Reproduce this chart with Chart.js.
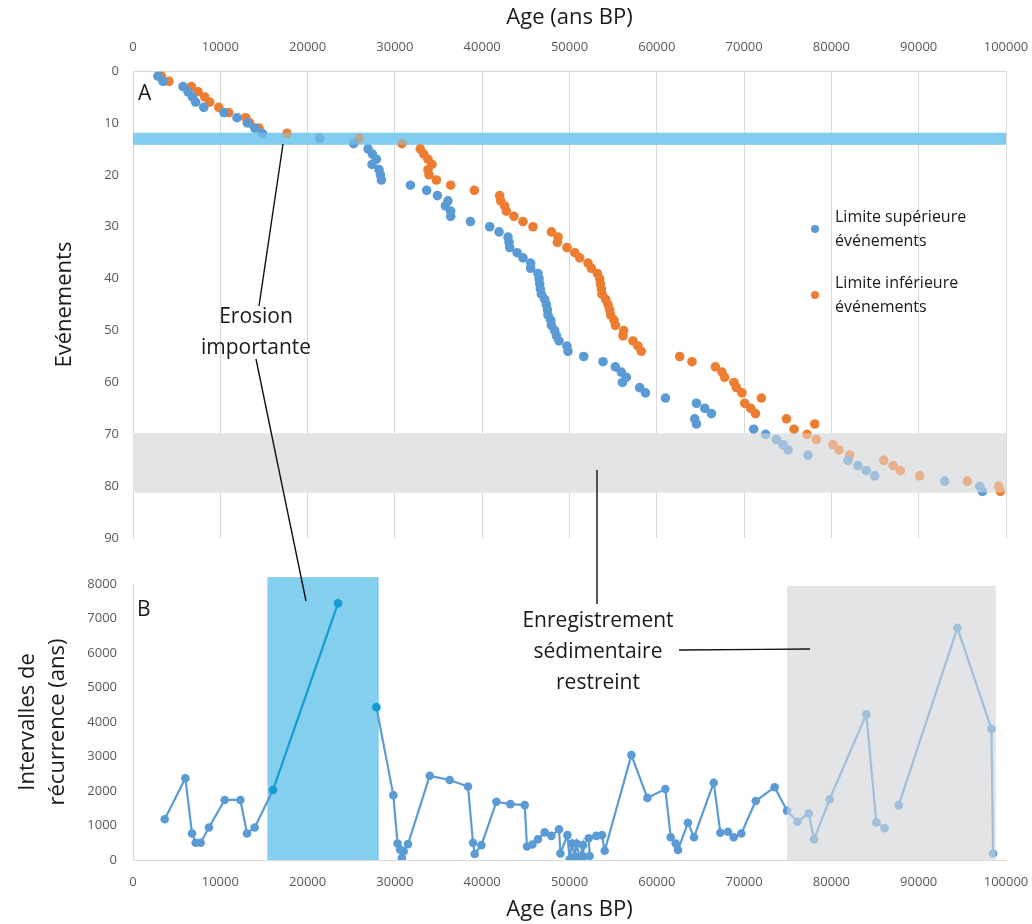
<!DOCTYPE html>
<html lang="fr">
<head>
<meta charset="utf-8">
<title>Evénements et intervalles de récurrence</title>
<script src="https://cdn.jsdelivr.net/npm/chart.js@4.4.1/dist/chart.umd.min.js"></script>
<style>
  html, body { margin: 0; padding: 0; background: #fff; }
  #page { position: relative; width: 1032px; height: 924px; font-family: 'Open Sans', sans-serif; color: #1a1a1a; }
  .panel { position: absolute; left: 0; width: 1032px; }
  #panelA { top: 0; height: 560px; }
  #panelB { top: 560px; height: 364px; }
  #leaders { position: absolute; left: 0; top: 0; pointer-events: none; }
  .note { position: absolute; text-align: center; font-size: 21px; line-height: 31px; white-space: nowrap; transform: translateX(-50%); }
  .tag { position: absolute; font-size: 21px; line-height: 24px; }
  .key { position: absolute; left: 835px; font-size: 16px; line-height: 24px; white-space: nowrap; }
  .key .dot { position: absolute; left: -24px; top: 21px; width: 8px; height: 8px; border-radius: 50%; }
</style>
</head>
<body>
<div id="page">
  <div class="panel" id="panelA"><canvas id="chartA" width="1032" height="560"></canvas></div>
  <div class="panel" id="panelB"><canvas id="chartB" width="1032" height="364"></canvas></div>

  <svg id="leaders" width="1032" height="924">
    <g stroke="#111" stroke-width="1.4" fill="none">
      <line x1="283" y1="144" x2="259" y2="306"/>
      <line x1="256" y1="359" x2="306" y2="601"/>
      <line x1="597" y1="470" x2="597" y2="604"/>
      <line x1="679" y1="650" x2="810" y2="649"/>
    </g>
  </svg>

  <div class="tag" style="left:138px;top:80px">A</div>
  <div class="tag" style="left:137px;top:596px">B</div>

  <div class="key" style="top:204px"><span class="dot" style="background:#5b9bd5"></span>Limite supérieure<br>événements</div>
  <div class="key" style="top:270px"><span class="dot" style="background:#ed7d31"></span>Limite inférieure<br>événements</div>

  <div class="note" style="left:256px;top:300px">Erosion<br>importante</div>
  <div class="note" style="left:598px;top:604px">Enregistrement<br>sédimentaire<br>restreint</div>
</div>

<script>
// Event number (rank) for each dated event
const events = [
  1, 2, 3, 4, 5, 6, 7, 8, 9, 10, 11, 12, 13, 14, 15, 16, 17, 18, 19, 20,
  21, 22, 23, 24, 25, 26, 27, 28, 29, 30, 31, 32, 33, 34, 35, 36, 37, 38, 39, 40,
  41, 42, 43, 44, 45, 46, 47, 48, 49, 50, 51, 52, 53, 54, 55, 56, 57, 58, 59, 60,
  61, 62, 63, 64, 65, 66, 67, 68, 69, 70, 71, 72, 73, 74, 75, 76, 77, 78, 79, 80, 81
];

// Upper age limit of each event (ans BP)
const upperAge = [
  2860, 3440, 5730, 6300, 6800, 7180, 8100, 10420, 11910, 13100, 13940, 14820,
  21390, 25280, 26920, 27420, 27880, 27380, 28180, 28340, 28450, 31780, 33640, 34870,
  36080, 35780, 36390, 36390, 38650, 40860, 41930, 42960, 43070, 43150, 43990, 44670,
  45550, 45550, 46390, 46510, 46590, 46660, 46780, 47160, 47350, 47470, 47540, 47850,
  47930, 48300, 48500, 48800, 49710, 49830, 51630, 53840, 55250, 55940, 56520, 56060,
  58040, 58700, 60990, 64540, 65490, 66260, 64340, 64540, 71100, 72470, 73700, 74460,
  75030, 77320, 81900, 83050, 84000, 84960, 92980, 96990, 97300
];

// Lower age limit of each event (ans BP)
const lowerAge = [
  3250, 4120, 6690, 7450, 8210, 8790, 9820, 10960, 12910, 13370, 14430, 17640,
  25890, 30810, 32900, 33300, 33790, 34250, 33790, 33900, 34750, 36390, 39100, 42000,
  42120, 42580, 42770, 43640, 44670, 45820, 47930, 48690, 48610, 49710, 50600, 51170,
  52120, 52500, 53190, 53460, 53540, 53650, 53720, 54150, 54410, 54600, 54720, 55100,
  55260, 56210, 56130, 57270, 57850, 58230, 62620, 64030, 66710, 67470, 67770, 68840,
  69120, 69760, 71980, 70070, 70760, 71300, 74850, 78090, 75720, 77210, 78280, 80180,
  80870, 82100, 85990, 87070, 87900, 90110, 95580, 99160, 99360
];

// Recurrence intervals; null marks a break in the record
const intervalAge = [
  3630, 6000, 6760, 7180, 7750, 8700, 10500, 12300, 13060, 13940, 16040, 23480,
  25700,
  27880, 29820, 30300, 30600, 30800, 31000, 31500, 33990, 36280, 38370, 38950, 39140,
  39910, 41630, 43230, 44870, 45130, 45750, 46390, 47160, 47920, 48800, 48960, 49760,
  50020, 50300, 50600, 50800, 51170, 51550, 51600, 52310, 52200, 53080, 53720, 54030,
  57090, 58920, 60980, 61590, 62170, 62430, 63570, 64260, 66520, 67280, 68160, 68810,
  69690, 71330, 73500, 74920, 76110, 77400, 78010, 79800, 84000, 85150, 86100,
  86900,
  87710, 94430, 98330, 98520
];
const intervalYears = [
  1180, 2370, 770, 500, 500, 940, 1740, 1740, 770, 940, 2030, 7440,
  null,
  4430, 1880, 480, 300, 60, 250, 460, 2440, 2320, 2130, 500, 175,
  430, 1690, 1620, 1590, 390, 450, 600, 800, 700, 890, 190, 720,
  20, 480, 100, 480, 50, 430, 100, 115, 630, 700, 720, 270,
  3040, 1800, 2060, 660, 480, 290, 1080, 660, 2240, 790, 820, 660,
  770, 1710, 2110, 1430, 1110, 1350, 600, 1760, 4220, 1090, 920,
  null,
  1590, 6730, 3800, 190
];

// Shaded periods
const erosionAges = [15390, 28150];
const restrictedAges = [74920, 98820];

Chart.defaults.font.family = "'Open Sans', sans-serif";
Chart.defaults.color = '#595959';

const axisLine = '#d9d9d9';
const titleFont = { size: 22 };
const tickFont = { size: 13 };

// Plain numbers on the axes, no thousands separator
function plain(value) {
  return String(value);
}

// Fixed-height age axis; the end labels may overhang the plot
function ageAxisFit(height) {
  return function(scale) {
    scale.height = height;
    scale.paddingLeft = 0;
    scale.paddingRight = 0;
  };
}

// Shaded boxes: painted opaque behind the marks, then again as a veil on top
const shadePlugin = {
  id: 'shade',
  beforeDatasetsDraw(chart, args, opts) {
    paintBoxes(chart, opts.boxes, false);
  },
  afterDatasetsDraw(chart, args, opts) {
    paintBoxes(chart, opts.boxes, true);
  }
};

function paintBoxes(chart, boxes, veil) {
  const ctx = chart.ctx;
  const xs = chart.scales.x;
  const ys = chart.scales.y;
  ctx.save();
  boxes.forEach(function(b) {
    if (veil && !b.veil) return;
    const x0 = xs.getPixelForValue(b.x[0]);
    const x1 = xs.getPixelForValue(b.x[1]);
    const y0 = ys.getPixelForValue(b.y[0]);
    const y1 = ys.getPixelForValue(b.y[1]);
    ctx.globalAlpha = veil ? b.veil : 1;
    ctx.fillStyle = b.color;
    ctx.fillRect(Math.min(x0, x1), Math.min(y0, y1), Math.abs(x1 - x0), Math.abs(y1 - y0));
  });
  ctx.restore();
}

function pairs(xs, ys) {
  return xs.map(function(x, i) { return { x: x, y: ys[i] }; });
}

// Chart A: event rank against age
new Chart(document.getElementById('chartA'), {
  type: 'scatter',
  data: {
    datasets: [
      {
        label: 'Limite supérieure événements',
        data: pairs(upperAge, events),
        backgroundColor: '#5b9bd5',
        borderWidth: 0,
        pointRadius: 4.8,
        pointHoverRadius: 4.8
      },
      {
        label: 'Limite inférieure événements',
        data: pairs(lowerAge, events),
        backgroundColor: '#ed7d31',
        borderWidth: 0,
        pointRadius: 4.8,
        pointHoverRadius: 4.8
      }
    ]
  },
  options: {
    responsive: false,
    animation: false,
    layout: { autoPadding: false, padding: { left: 0, right: 26, top: 0, bottom: 13 } },
    plugins: {
      legend: { display: false },
      tooltip: { enabled: false },
      shade: {
        boxes: [
          { x: [0, 100000], y: [11.9, 14.2], color: '#80cdef', veil: 0.5 },
          { x: [0, 100000], y: [69.8, 81.2], color: '#e3e4e6', veil: 0.5 }
        ]
      }
    },
    scales: {
      x: {
        type: 'linear',
        position: 'top',
        min: 0,
        max: 100000,
        afterFit: ageAxisFit(71),
        ticks: { stepSize: 10000, padding: 16, font: tickFont, maxRotation: 0, callback: plain },
        grid: { color: axisLine, drawTicks: false },
        border: { color: axisLine },
        title: { display: true, text: 'Age (ans BP)', color: '#1a1a1a', font: titleFont, padding: { top: 5, bottom: 0 } }
      },
      y: {
        reverse: true,
        min: 0,
        max: 90,
        afterFit: function(scale) { scale.width = 133; },
        ticks: { stepSize: 10, padding: 14, font: tickFont, callback: plain },
        grid: { display: false, drawTicks: false },
        border: { color: axisLine },
        title: { display: true, text: 'Evénements', color: '#1a1a1a', font: titleFont, padding: { top: 52, bottom: 0 } }
      }
    }
  },
  plugins: [shadePlugin]
});

// Chart B: recurrence interval against age
const lineBlue = '#5b9bd5';
const erosionBlue = '#139bd6';

function inErosion(x) {
  return x >= erosionAges[0] && x <= erosionAges[1];
}

new Chart(document.getElementById('chartB'), {
  type: 'line',
  data: {
    datasets: [{
      label: 'Intervalles de récurrence',
      data: pairs(intervalAge, intervalYears),
      borderColor: lineBlue,
      borderWidth: 2.2,
      spanGaps: false,
      tension: 0,
      pointRadius: 4.3,
      pointHoverRadius: 4.3,
      pointBorderWidth: 0,
      pointBackgroundColor: function(ctx) {
        return ctx.raw && inErosion(ctx.raw.x) ? erosionBlue : lineBlue;
      },
      segment: {
        borderColor: function(ctx) {
          return inErosion(ctx.p0.parsed.x) && inErosion(ctx.p1.parsed.x) ? erosionBlue : undefined;
        }
      }
    }]
  },
  options: {
    responsive: false,
    animation: false,
    layout: { autoPadding: false, padding: { left: 0, right: 26, top: 24, bottom: 0 } },
    plugins: {
      legend: { display: false },
      tooltip: { enabled: false },
      shade: {
        boxes: [
          { x: erosionAges, y: [0, 8200], color: '#84cfee', veil: 0 },
          { x: restrictedAges, y: [0, 7940], color: '#e3e4e6', veil: 0.5 }
        ]
      }
    },
    scales: {
      x: {
        type: 'linear',
        position: 'bottom',
        min: 0,
        max: 100000,
        afterFit: ageAxisFit(64),
        ticks: { stepSize: 10000, padding: 14, font: tickFont, maxRotation: 0, callback: plain },
        grid: { display: false, drawTicks: false },
        border: { color: axisLine },
        title: { display: true, text: 'Age (ans BP)', color: '#1a1a1a', font: titleFont, padding: { top: 0, bottom: 1 } }
      },
      y: {
        min: 0,
        max: 8000,
        afterFit: function(scale) { scale.width = 133; },
        ticks: { stepSize: 1000, padding: 16, font: tickFont, callback: plain },
        grid: { display: false, drawTicks: false },
        border: { color: axisLine },
        title: {
          display: true,
          text: ['Intervalles de', 'récurrence (ans)'],
          color: '#1a1a1a',
          font: { size: 22, lineHeight: 1.36 },
          padding: { top: 13, bottom: 0 }
        }
      }
    }
  },
  plugins: [shadePlugin]
});
</script>
</body>
</html>
